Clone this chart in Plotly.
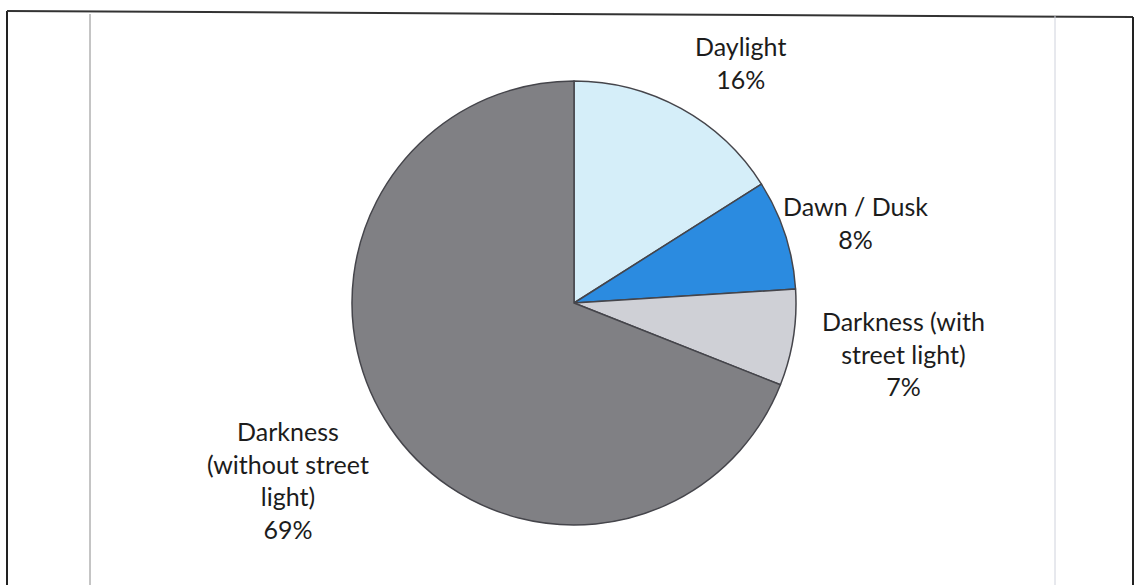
import plotly.graph_objects as go

# Share of casualties by lighting condition
categories = ["Daylight", "Dawn / Dusk", "Darkness (with street light)", "Darkness (without street light)"]
values = [16, 8, 7, 69]
label_lines = [["Daylight"], ["Dawn / Dusk"], ["Darkness (with", "street light)"],
               ["Darkness", "(without street", "light)"]]
colors = ["#d5eef9", "#2b8be0", "#cfd0d6", "#808084"]

W, H = 1136, 585
cx, cy, r = 574, 303, 222

fig = go.Figure(go.Pie(
    labels=categories,
    values=values,
    sort=False,
    direction="clockwise",
    rotation=0,
    textinfo="none",
    hoverinfo="label+percent",
    marker=dict(colors=colors, line=dict(color="#45454b", width=1.5)),
    showlegend=False,
    domain=dict(x=[(cx - r) / W, (cx + r) / W], y=[(H - cy - r) / H, (H - cy + r) / H]),
))

# label anchor points (pixel centre of first line)
label_pos = [(740, 47), (855, 207), (903, 322), (288, 432)]
annotations = []
for lines, v, (lx, ly) in zip(label_lines, values, label_pos):
    text = "<br>".join(lines + [f"{v}%"])
    annotations.append(dict(
        x=lx / W, y=1 - (ly - 18) / H, xref="paper", yref="paper",
        xanchor="center", yanchor="top", showarrow=False, align="center",
        text=text, font=dict(family="Lato, 'Open Sans', sans-serif", size=25, color="#1c1c1c"),
    ))

def px(x, y):
    return x / W, 1 - y / H

shapes = []
# outer frame
for (x0, y0), (x1, y1), col, wd in [
    ((7, 11), (7, 585), "#222222", 2),
    ((7, 11), (1133, 17), "#333333", 2),
    ((1133, 17), (1133, 585), "#222222", 2),
    ((90, 14), (90, 585), "#8a8a8a", 1),
    ((1055, 16), (1055, 585), "#cfd2dc", 1),
]:
    a, b = px(x0, y0)
    c, d = px(x1, y1)
    shapes.append(dict(type="line", xref="paper", yref="paper", x0=a, y0=b, x1=c, y1=d,
                       line=dict(color=col, width=wd)))

fig.update_layout(
    width=W, height=H,
    margin=dict(l=0, r=0, t=0, b=0),
    paper_bgcolor="white", plot_bgcolor="white",
    annotations=annotations, shapes=shapes,
)

fig.write_html("out.html")
